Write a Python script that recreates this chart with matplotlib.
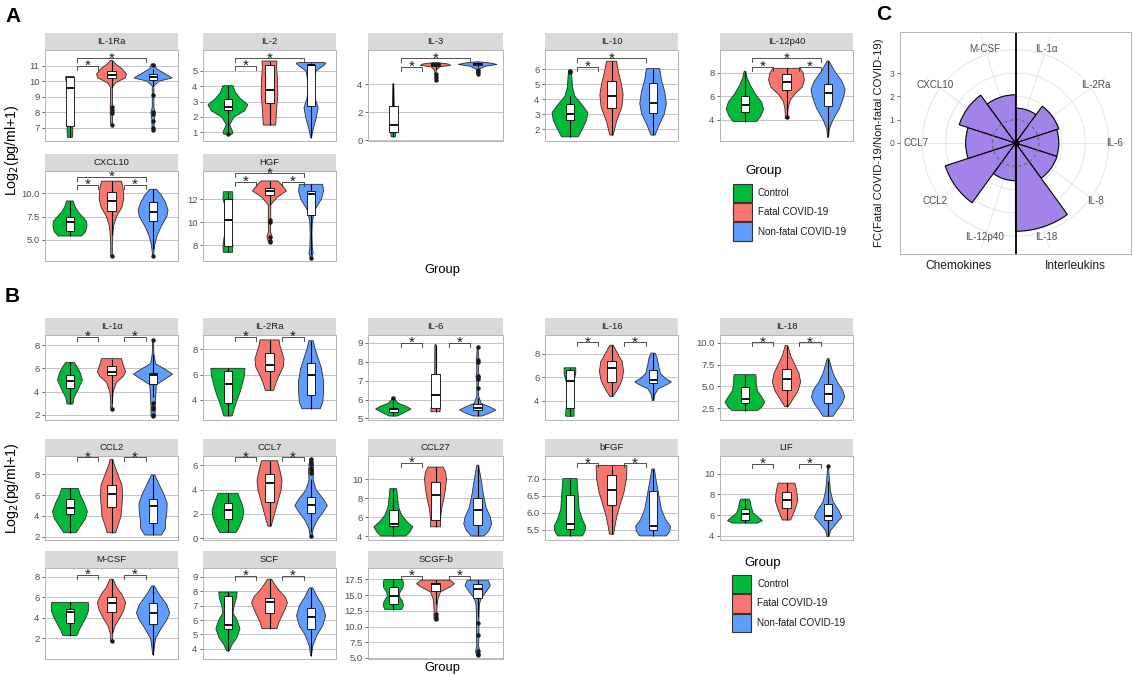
import numpy as np
import matplotlib
matplotlib.use('Agg')
import matplotlib.pyplot as plt
from matplotlib.patches import Rectangle

plt.rcParams['font.family'] = ['Liberation Sans', 'DejaVu Sans']

# ---- data ----
groups = ['Control', 'Fatal COVID-19', 'Non-fatal COVID-19']
group_colors = ['#00BA38', '#F8766D', '#619CFF']

panel_a = [['IL-1Ra', 'IL-2', 'IL-3', 'IL-10', 'IL-12p40'],
           ['CXCL10', 'HGF']]
panel_b = [['IL-1α', 'IL-2Ra', 'IL-6', 'IL-16', 'IL-18'],
           ['CCL2', 'CCL7', 'CCL27', 'bFGF', 'LIF'],
           ['M-CSF', 'SCF', 'SCGF-b']]

ylims = {
    'IL-1Ra': (6.14, 12.0), 'IL-2': (0.43, 6.37), 'IL-3': (-0.05, 6.45),
    'IL-10': (1.2, 7.3), 'IL-12p40': (2.17, 9.97), 'CXCL10': (2.75, 12.39),
    'HGF': (6.65, 14.42), 'IL-1α': (1.57, 8.86), 'IL-2Ra': (2.42, 9.13),
    'IL-6': (4.92, 9.41), 'IL-16': (2.36, 9.59), 'IL-18': (1.14, 10.89),
    'CCL2': (1.68, 9.76), 'CCL7': (-0.14, 6.77), 'CCL27': (3.61, 12.42),
    'bFGF': (5.2, 7.66), 'LIF': (3.58, 11.73), 'M-CSF': (0.0, 8.87),
    'SCF': (3.29, 9.62), 'SCGF-b': (4.84, 19.29),
}

yticks = {
    'IL-1Ra': [7, 8, 9, 10, 11], 'IL-2': [1, 2, 3, 4, 5], 'IL-3': [0, 2, 4],
    'IL-10': [2, 3, 4, 5, 6], 'IL-12p40': [4, 6, 8], 'CXCL10': [5.0, 7.5, 10.0],
    'HGF': [8, 10, 12], 'IL-1α': [2, 4, 6, 8], 'IL-2Ra': [4, 6, 8],
    'IL-6': [5, 6, 7, 8, 9], 'IL-16': [4, 6, 8], 'IL-18': [2.5, 5.0, 7.5, 10.0],
    'CCL2': [2, 4, 6, 8], 'CCL7': [0, 2, 4, 6], 'CCL27': [4, 6, 8, 10],
    'bFGF': [5.5, 6.0, 6.5, 7.0], 'LIF': [4, 6, 8, 10], 'M-CSF': [2, 4, 6, 8],
    'SCF': [4, 5, 6, 7, 8, 9], 'SCGF-b': [5.0, 7.5, 10.0, 12.5, 15.0, 17.5],
}

# (q1, median, q3) per group
boxes = {
    'IL-1Ra': [(7.13, 9.54, 10.29), (10.2, 10.4, 10.66), (10.08, 10.29, 10.46)],
    'IL-2': [(2.45, 2.67, 3.15), (2.93, 3.73, 5.37), (2.7, 5.37, 5.42)],
    'IL-3': [(0.62, 1.1, 2.45), (5.3, 5.4, 5.5), (5.35, 5.42, 5.5)],
    'IL-10': [(2.64, 3.0, 3.66), (3.43, 4.25, 5.2), (3.05, 3.77, 5.06)],
    'IL-12p40': [(4.63, 5.26, 6.03), (6.54, 7.2, 7.91), (5.2, 6.29, 7.06)],
    'CXCL10': [(6.0, 6.89, 7.5), (8.1, 9.23, 10.1), (7.07, 7.96, 9.1)],
    'HGF': [(7.97, 10.2, 12.0), (12.32, 12.69, 12.97), (10.62, 12.4, 12.72)],
    'IL-1α': [(4.29, 4.94, 5.43), (5.43, 5.71, 6.2), (4.7, 5.45, 5.6)],
    'IL-2Ra': [(3.79, 5.3, 6.28), (6.32, 6.76, 7.74), (4.39, 5.95, 6.95)],
    'IL-6': [(5.36, 5.48, 5.58), (5.53, 6.24, 7.34), (5.46, 5.58, 5.74)],
    'IL-16': [(3.42, 5.68, 6.6), (5.62, 6.81, 7.42), (5.5, 5.73, 6.6)],
    'IL-18': [(3.1, 3.54, 4.96), (4.54, 5.89, 7.02), (3.1, 4.07, 5.25)],
    'CCL2': [(4.2, 4.73, 5.6), (4.86, 6.1, 6.98), (3.3, 4.99, 5.63)],
    'CCL7': [(1.56, 2.3, 2.88), (3.0, 4.52, 5.26), (2.11, 2.74, 3.37)],
    'CCL27': [(5.1, 5.26, 6.77), (5.71, 8.3, 9.68), (5.16, 6.71, 8.0)],
    'bFGF': [(5.52, 5.68, 6.52), (6.22, 6.66, 7.09), (5.49, 5.61, 6.63)],
    'LIF': [(5.52, 6.12, 6.57), (6.7, 7.44, 8.2), (5.52, 5.88, 7.07)],
    'M-CSF': [(3.48, 4.61, 4.84), (4.55, 5.42, 6.0), (3.39, 4.48, 5.48)],
    'SCF': [(5.4, 5.65, 7.69), (6.48, 7.28, 7.56), (5.39, 6.23, 6.84)],
    'SCGF-b': [(13.55, 14.85, 16.3), (15.6, 16.8, 16.95), (14.46, 16.0, 16.8)],
}

# (low, high) whisker ends per group
whiskers = {
    'IL-1Ra': [(6.38, 10.3), (9.55, 11.32), (9.7, 10.8)],
    'IL-2': [(0.95, 4.04), (1.47, 5.65), (0.65, 5.55)],
    'IL-3': [(0.25, 4.05), (5.1, 5.55), (5.2, 5.6)],
    'IL-10': [(1.48, 4.2), (1.6, 6.55), (1.6, 6.05)],
    'IL-12p40': [(3.83, 8.14), (4.4, 8.4), (2.5, 9.03)],
    'CXCL10': [(5.43, 9.18), (5.5, 11.3), (4.0, 10.43)],
    'HGF': [(7.4, 12.63), (11.5, 13.56), (7.2, 13.27)],
    'IL-1α': [(2.94, 6.51), (3.0, 6.83), (3.5, 7.2)],
    'IL-2Ra': [(2.74, 6.5), (4.76, 8.74), (3.31, 8.68)],
    'IL-6': [(5.13, 5.9), (5.36, 8.9), (5.13, 6.1)],
    'IL-16': [(2.68, 6.8), (4.36, 8.72), (4.03, 8.05)],
    'IL-18': [(2.21, 6.34), (2.68, 9.68), (1.57, 8.18)],
    'CCL2': [(2.38, 6.64), (2.38, 9.44), (2.16, 7.94)],
    'CCL7': [(0.49, 3.7), (1.0, 6.38), (0.5, 4.9)],
    'CCL27': [(4.03, 9.0), (5.0, 11.26), (4.03, 11.45)],
    'bFGF': [(5.32, 7.0), (5.37, 7.38), (5.32, 7.28)],
    'LIF': [(5.22, 7.55), (5.52, 9.1), (4.0, 9.3)],
    'M-CSF': [(2.29, 5.52), (2.5, 7.77), (0.42, 7.13)],
    'SCF': [(3.86, 7.95), (5.41, 8.84), (3.52, 8.24)],
    'SCGF-b': [(12.7, 17.45), (13.5, 17.35), (11.5, 17.35)],
}

outliers = {
    'IL-1Ra': [[], [8.35, 8.14, 7.95, 7.17], [11.05, 9.1, 8.0, 7.85, 7.4, 7.0, 6.85]],
    'IL-2': [[0.9], [], []],
    'IL-3': [[], [4.75, 4.55, 4.3], [5.0, 4.85, 4.75]],
    'IL-10': [[5.8, 5.9], [], []],
    'IL-12p40': [[], [4.2], []],
    'CXCL10': [[], [3.3], [3.3]],
    'HGF': [[], [10.15, 10.0, 8.7, 8.4, 8.3], [6.95]],
    'IL-1α': [[], [2.55], [8.4, 3.0, 2.7, 2.5, 2.0, 1.9]],
    'IL-2Ra': [[], [], []],
    'IL-6': [[6.1], [], [6.6, 7.1, 7.2, 7.25, 8.0, 8.1, 8.8]],
    'IL-16': [[], [], []],
    'IL-18': [[], [], []],
    'CCL2': [[], [], []],
    'CCL7': [[], [], [5.4, 5.6, 5.8, 6.1, 6.3, 6.5, 0.15]],
    'CCL27': [[], [], []],
    'bFGF': [[], [], []],
    'LIF': [[], [], [10.75]],
    'M-CSF': [[], [1.8], []],
    'SCF': [[], [], []],
    'SCGF-b': [[], [12.0, 11.5, 11.2], [10.5, 8.6, 6.1, 5.6, 5.4]],
}

# violin outlines: (y, half width) pairs, bottom to top
violins = {
    'IL-1Ra': [
        [(6.38, .06), (6.9, .07), (7.2, .05), (8.5, .04), (9.8, .06), (10.1, .1), (10.3, .1)],
        [(7.2, .02), (8.0, .03), (8.3, .03), (9.6, .02), (9.9, .1), (10.2, .33), (10.45, .36), (10.8, .25), (11.1, .1), (11.32, .03)],
        [(6.8, .02), (7.5, .03), (8.0, .05), (8.3, .02), (9.7, .02), (10.0, .15), (10.2, .46), (10.45, .3), (10.8, .08), (11.1, .04)]],
    'IL-2': [
        [(0.87, .1), (1.0, .12), (1.5, .04), (2.0, .15), (2.4, .4), (2.8, .48), (3.2, .3), (3.6, .18), (4.04, .12)],
        [(1.47, .15), (2.5, .17), (3.5, .2), (4.5, .19), (5.3, .17), (5.65, .18)],
        [(0.65, .01), (1.2, .05), (2.0, .13), (2.6, .17), (3.2, .1), (4.0, .06), (5.0, .12), (5.35, .3), (5.5, .36), (5.55, .3)]],
    'IL-3': [
        [(0.25, .05), (0.5, .06), (0.8, .05), (1.5, .03), (2.5, .02), (4.05, .01)],
        [(4.3, .01), (5.0, .02), (5.25, .1), (5.35, .36), (5.45, .3), (5.55, .05)],
        [(4.75, .02), (5.1, .04), (5.3, .2), (5.42, .46), (5.52, .3), (5.6, .05)]],
    'IL-10': [
        [(1.48, .2), (2.0, .3), (2.6, .4), (3.1, .43), (3.6, .3), (4.2, .12), (4.8, .06), (5.3, .05), (5.7, .04), (5.95, .03)],
        [(1.6, .04), (2.5, .12), (3.5, .25), (4.3, .28), (5.0, .24), (5.8, .17), (6.55, .12)],
        [(1.6, .05), (2.3, .15), (3.0, .27), (3.7, .32), (4.5, .28), (5.3, .2), (6.05, .16)]],
    'IL-12p40': [
        [(3.83, .28), (4.3, .38), (4.9, .45), (5.5, .4), (6.2, .25), (7.0, .12), (7.6, .05), (8.14, .02)],
        [(4.1, .03), (4.5, .03), (5.0, .04), (5.6, .08), (6.2, .2), (6.8, .38), (7.4, .43), (8.0, .4), (8.4, .33)],
        [(2.5, .01), (3.2, .03), (4.0, .12), (5.0, .28), (6.0, .38), (6.6, .41), (7.3, .33), (8.2, .15), (9.03, .02)]],
    'CXCL10': [
        [(5.43, .28), (5.9, .38), (6.5, .41), (7.0, .4), (7.5, .3), (8.0, .2), (8.6, .12), (9.18, .08)],
        [(3.3, .02), (4.5, .02), (5.5, .03), (6.5, .05), (7.5, .12), (8.5, .25), (9.5, .3), (10.5, .28), (11.3, .24)],
        [(3.3, .01), (4.5, .04), (5.5, .1), (6.5, .2), (7.5, .33), (8.2, .36), (9.0, .3), (9.8, .2), (10.43, .08)]],
    'HGF': [
        [(7.4, .11), (8.0, .12), (9.0, .08), (10.2, .06), (11.5, .08), (12.0, .12), (12.63, .11)],
        [(8.3, .02), (8.5, .05), (8.8, .06), (9.2, .02), (10.0, .03), (10.3, .03), (11.5, .03), (12.2, .2), (12.7, .41), (13.2, .3), (13.56, .2)],
        [(6.94, .02), (7.3, .05), (7.8, .03), (9.0, .02), (10.0, .03), (11.0, .08), (12.0, .25), (12.7, .3), (13.27, .28)]],
    'IL-1α': [
        [(2.94, .07), (3.5, .1), (4.2, .2), (5.0, .3), (5.6, .25), (6.1, .18), (6.51, .1)],
        [(2.57, .02), (3.2, .02), (4.0, .04), (4.8, .12), (5.3, .28), (5.7, .34), (6.3, .28), (6.83, .24)],
        [(1.9, .05), (2.3, .05), (2.8, .05), (3.4, .06), (4.0, .07), (4.6, .08), (5.1, .3), (5.5, .47), (5.9, .3), (6.4, .06), (7.2, .02), (8.46, .01)]],
    'IL-2Ra': [
        [(2.74, .1), (3.2, .14), (3.8, .2), (4.5, .28), (5.3, .35), (6.0, .4), (6.5, .41)],
        [(4.76, .1), (5.3, .15), (6.0, .24), (6.6, .33), (7.2, .35), (7.8, .3), (8.3, .25), (8.74, .23)],
        [(3.31, .22), (3.8, .28), (4.6, .3), (5.5, .3), (6.5, .25), (7.3, .17), (8.0, .1), (8.68, .05)]],
    'IL-6': [
        [(5.13, .1), (5.3, .25), (5.5, .42), (5.65, .3), (5.8, .12), (6.0, .04), (6.12, .03)],
        [(5.36, .11), (5.5, .11), (5.8, .06), (6.5, .03), (7.5, .02), (8.9, .015)],
        [(5.13, .1), (5.3, .3), (5.45, .43), (5.6, .3), (5.8, .08), (6.2, .02), (7.0, .02), (7.2, .04), (7.5, .02), (8.0, .03), (8.82, .01)]],
    'IL-16': [
        [(2.68, .1), (3.2, .1), (3.6, .07), (4.5, .04), (5.5, .08), (6.3, .14), (6.8, .14)],
        [(4.36, .04), (5.0, .15), (5.7, .25), (6.5, .29), (7.3, .26), (8.0, .15), (8.72, .04)],
        [(4.03, .02), (4.5, .04), (5.0, .12), (5.4, .35), (5.6, .44), (5.9, .3), (6.3, .18), (7.0, .13), (7.6, .1), (8.05, .05)]],
    'IL-18': [
        [(2.21, .3), (2.6, .4), (3.2, .48), (3.8, .4), (4.5, .3), (5.4, .27), (6.0, .27), (6.34, .26)],
        [(2.68, .04), (3.5, .15), (4.5, .28), (5.5, .34), (6.5, .3), (7.5, .2), (8.5, .1), (9.68, .03)],
        [(1.57, .12), (2.3, .22), (3.0, .33), (3.8, .4), (4.6, .35), (5.5, .22), (6.5, .12), (7.5, .06), (8.18, .02)]],
    'CCL2': [
        [(2.38, .15), (3.0, .25), (3.7, .37), (4.4, .42), (5.2, .35), (6.0, .25), (6.64, .2)],
        [(2.38, .1), (3.0, .15), (4.0, .23), (5.0, .25), (6.0, .27), (7.0, .25), (8.0, .15), (9.0, .06), (9.44, .03)],
        [(2.16, .2), (2.8, .3), (3.5, .3), (4.3, .33), (5.2, .34), (6.0, .27), (7.0, .15), (7.94, .04)]],
    'CCL7': [
        [(0.49, .2), (1.0, .28), (1.7, .36), (2.3, .38), (2.9, .33), (3.4, .27), (3.7, .24)],
        [(1.0, .04), (2.0, .12), (3.0, .2), (4.0, .28), (4.8, .3), (5.6, .25), (6.38, .19)],
        [(0.15, .02), (0.8, .05), (1.5, .15), (2.2, .3), (2.7, .39), (3.2, .3), (4.0, .12), (4.8, .05), (5.5, .06), (6.0, .05), (6.5, .03)]],
    'CCL27': [
        [(4.03, .3), (4.5, .4), (5.0, .46), (5.5, .33), (6.2, .2), (7.0, .13), (8.0, .1), (9.0, .08)],
        [(5.0, .12), (6.0, .12), (7.0, .15), (8.0, .2), (9.0, .24), (10.0, .26), (10.7, .24), (11.26, .18)],
        [(4.03, .15), (4.6, .27), (5.3, .33), (6.0, .3), (7.0, .2), (8.5, .13), (10.0, .08), (11.45, .02)]],
    'bFGF': [
        [(5.32, .3), (5.45, .36), (5.6, .38), (5.8, .3), (6.1, .22), (6.5, .2), (6.8, .18), (7.0, .17)],
        [(5.37, .05), (5.6, .08), (5.9, .13), (6.2, .2), (6.6, .3), (7.0, .36), (7.38, .37)],
        [(5.32, .32), (5.45, .4), (5.6, .42), (5.8, .3), (6.1, .2), (6.5, .14), (6.9, .08), (7.28, .03)]],
    'LIF': [
        [(5.22, .3), (5.45, .42), (5.7, .35), (6.2, .2), (6.8, .15), (7.3, .13), (7.55, .1)],
        [(5.52, .1), (6.0, .15), (6.7, .22), (7.4, .27), (8.2, .25), (8.8, .22), (9.1, .2)],
        [(3.9, .02), (4.5, .06), (5.2, .2), (5.8, .33), (6.5, .25), (7.3, .12), (8.3, .06), (9.5, .03), (10.75, .01)]],
    'M-CSF': [
        [(2.29, .17), (2.8, .22), (3.4, .3), (4.0, .38), (4.6, .44), (5.2, .45), (5.52, .44)],
        [(1.7, .02), (2.5, .03), (3.2, .08), (4.0, .2), (4.8, .3), (5.5, .34), (6.3, .25), (7.0, .12), (7.77, .04)],
        [(0.42, .01), (1.2, .03), (2.0, .06), (3.0, .2), (3.8, .33), (4.5, .4), (5.3, .33), (6.3, .15), (7.13, .03)]],
    'SCF': [
        [(3.86, .03), (4.3, .1), (4.8, .22), (5.4, .29), (6.0, .22), (6.5, .12), (7.0, .15), (7.6, .21), (7.95, .22)],
        [(5.41, .18), (5.8, .22), (6.3, .3), (6.8, .38), (7.2, .43), (7.6, .38), (8.1, .22), (8.5, .12), (8.84, .05)],
        [(3.52, .01), (4.2, .04), (5.0, .15), (5.6, .28), (6.3, .35), (7.0, .28), (7.6, .15), (8.24, .04)]],
    'SCGF-b': [
        [(12.7, .2), (13.3, .24), (14.0, .22), (14.8, .14), (15.5, .16), (16.2, .23), (16.9, .24), (17.45, .22)],
        [(11.0, .03), (11.8, .04), (12.5, .03), (13.5, .04), (14.5, .06), (15.5, .12), (16.3, .35), (16.8, .45), (17.35, .35)],
        [(5.4, .02), (6.0, .05), (7.0, .02), (8.6, .03), (10.5, .03), (12.0, .03), (13.5, .04), (14.5, .08), (15.5, .2), (16.5, .3), (17.35, .25)]],
}

# significance brackets: (pair, y)
brackets = {
    'IL-1Ra': [((1, 2), 11.0), ((1, 3), 11.47)],
    'IL-2': [((1, 2), 5.35), ((1, 3), 5.83)],
    'IL-3': [((1, 2), 5.26), ((1, 3), 5.86)],
    'IL-10': [((1, 2), 6.18), ((1, 3), 6.74)],
    'IL-12p40': [((1, 2), 8.54), ((2, 3), 8.54), ((1, 3), 9.26)],
    'CXCL10': [((1, 2), 10.89), ((2, 3), 10.89), ((1, 3), 11.79)],
    'HGF': [((1, 2), 13.5), ((2, 3), 13.5), ((1, 3), 14.22)],
    'IL-1α': [((1, 2), 8.71), ((2, 3), 8.71)],
    'IL-2Ra': [((1, 2), 9.0), ((2, 3), 9.0)],
    'IL-6': [((1, 2), 9.0), ((2, 3), 9.0)],
    'IL-16': [((1, 2), 8.98), ((2, 3), 8.98)],
    'IL-18': [((1, 2), 10.07), ((2, 3), 10.07)],
    'CCL2': [((1, 2), 9.63), ((2, 3), 9.63)],
    'CCL7': [((1, 2), 6.66), ((2, 3), 6.66)],
    'CCL27': [((1, 2), 11.68)],
    'bFGF': [((1, 2), 7.45), ((2, 3), 7.45)],
    'LIF': [((1, 2), 10.99), ((2, 3), 10.99)],
    'M-CSF': [((1, 2), 8.23), ((2, 3), 8.23)],
    'SCF': [((1, 2), 9.07), ((2, 3), 9.07)],
    'SCGF-b': [((1, 2), 18.03), ((2, 3), 18.03)],
}

# panel C: fold change fatal / non-fatal
fc_labels = ['IL-1α', 'IL-2Ra', 'IL-6', 'IL-8', 'IL-18',
             'IL-12p40', 'CCL2', 'CCL7', 'CXCL10', 'M-CSF']
fc_values = [1.5, 1.95, 1.86, 1.87, 3.79, 1.62, 3.17, 2.14, 2.54, 2.07]
fc_ticks = [0, 1, 2, 3]
fc_sides = ['Chemokines', 'Interleukins']

# ---- layout ----
W, H = 1133, 676
fig = plt.figure(figsize=(W / 100, H / 100), dpi=100)

def px_axes(l, t, r, b, **kw):
    return fig.add_axes([l / W, 1 - b / H, (r - l) / W, (b - t) / H], **kw)

cols = [(45, 178), (203, 336), (368, 503), (545, 678), (720, 853)]
rows_a = [(33, 50, 141), (154, 171, 261)]
rows_b = [(318, 335, 420), (439, 456, 540), (551, 568, 659)]

BRX = {(1, 2): (1.18, 1.67), (2, 3): (2.31, 2.82), (1, 3): (1.18, 2.82)}
EDGE = '#2b2b2b'


def draw_panel(name, col, row):
    l, r = col
    st, pt, pb = row
    s = px_axes(l, st, r, pt)
    s.set_facecolor('#d9d9d9')
    s.set_xticks([]); s.set_yticks([])
    for sp in s.spines.values():
        sp.set_visible(False)
    s.text(0.5, 0.5, name, ha='center', va='center', fontsize=6.8,
           color='#1a1a1a', transform=s.transAxes)

    ax = px_axes(l, pt, r, pb)
    lo, hi = ylims[name]
    rng = hi - lo
    ax.set_xlim(0.4, 3.6)
    ax.set_ylim(lo, hi)
    ticks = yticks[name]
    ax.set_yticks(ticks)
    fmt = '%.1f' if any(t != int(t) for t in ticks) else '%d'
    ax.set_yticklabels([fmt % t for t in ticks])
    ax.set_xticks([])
    ax.yaxis.grid(True, color='#c4c4c4', lw=0.7)
    ax.set_axisbelow(True)
    ax.tick_params(axis='y', length=2.5, width=0.5, color='#333333',
                   labelsize=6.8, labelcolor='#4d4d4d', pad=1.5)
    for sp in ax.spines.values():
        sp.set_color('#b3b3b3'); sp.set_linewidth(0.7)

    for i in range(3):
        c = i + 1
        prof = violins[name][i]
        ys = [p[0] for p in prof]
        ws = [p[1] for p in prof]
        xs = [c + w for w in ws] + [c - w for w in ws[::-1]]
        ax.fill(xs, ys + ys[::-1], facecolor=group_colors[i],
                edgecolor=EDGE, lw=0.6, zorder=2)
        q1, med, q3 = boxes[name][i]
        wl, wh = whiskers[name][i]
        ax.vlines(c, wl, q1, color='black', lw=0.8, zorder=3)
        ax.vlines(c, q3, wh, color='black', lw=0.8, zorder=3)
        ax.add_patch(Rectangle((c - 0.1, q1), 0.2, q3 - q1, facecolor='white',
                               edgecolor='black', lw=0.6, zorder=4))
        ax.hlines(med, c - 0.1, c + 0.1, color='black', lw=1.3, zorder=5)
        out = outliers[name][i]
        if out:
            ax.scatter([c] * len(out), out, s=10, color='#1a1a1a',
                       zorder=5, linewidths=0)

    tl = 4.0 / (pb - pt) * rng
    for pair, y in brackets[name]:
        x0, x1 = BRX[pair]
        ax.plot([x0, x0, x1, x1], [y - tl, y, y, y - tl], color='#333333',
                lw=0.6, zorder=6, clip_on=False)
        ax.annotate('*', xy=((x0 + x1) / 2, y), xytext=(0, -3.0),
                    textcoords='offset points', ha='center', va='baseline',
                    fontsize=11, color='#1a1a1a', annotation_clip=False)
    return ax


for ri, names in enumerate(panel_a):
    for ci, nm in enumerate(names):
        draw_panel(nm, cols[ci], rows_a[ri])
for ri, names in enumerate(panel_b):
    for ci, nm in enumerate(names):
        draw_panel(nm, cols[ci], rows_b[ri])

# ---- panel C ----
cl, ct, cr, cb = 900, 32, 1131, 254
unit = 23.3
pol = px_axes(cl, ct, cr, cb, projection='polar')
pol.set_theta_zero_location('N')
pol.set_theta_direction(-1)
theta = np.deg2rad(np.arange(len(fc_labels)) * 36 + 18)
pol.bar(theta, fc_values, width=np.deg2rad(36), color='#a283ea',
        edgecolor='black', lw=0.8, zorder=3)
rmax = (cb - ct) / 2 / unit
pol.set_ylim(0, rmax)
pol.set_yticks([1, 2, 3, 4])
pol.set_yticklabels([])
pol.set_xticks(theta)
pol.set_xticklabels([])
pol.grid(color='#e6e6e6', lw=0.7)
pol.set_axisbelow(True)
pol.spines['polar'].set_visible(False)
pol.patch.set_alpha(0)
tt = np.linspace(0, 2 * np.pi, 200)
pol.plot(tt, np.ones_like(tt), ls=(0, (3, 2.5)), color='#666666', lw=0.8, zorder=4)
for t, lab in zip(theta, fc_labels):
    pol.text(t, 4.25, lab, ha='center', va='center', fontsize=7.1, color='#4d4d4d')

cov = px_axes(cl, ct, cr, cb)
cov.set_facecolor('none')
hw = (cr - cl) / 2 / unit
cov.set_xlim(-hw, hw)
cov.set_ylim(-rmax, rmax)
cov.axvline(0, color='black', lw=1.3)
cov.scatter([0], [0], s=14, color='black', zorder=5)
cov.set_yticks(fc_ticks)
cov.set_yticklabels([str(t) for t in fc_ticks])
cov.set_xticks([-2.45, 2.55])
cov.set_xticklabels(fc_sides)
cov.tick_params(axis='y', length=2.5, width=0.5, color='#333333',
                labelsize=6.2, labelcolor='#4d4d4d', pad=1.5)
cov.tick_params(axis='x', length=0, labelsize=8.6, labelcolor='#1a1a1a', pad=4)
cov.set_ylabel('FC(Fatal COVID-19/Non-fatal COVID-19)', fontsize=8.2,
               color='#1a1a1a', labelpad=4)
for sp in cov.spines.values():
    sp.set_color('#b3b3b3'); sp.set_linewidth(0.7)

# ---- labels, legends ----
ov = fig.add_axes([0, 0, 1, 1])
ov.set_xlim(0, W)
ov.set_ylim(H, 0)
ov.axis('off')
ov.patch.set_alpha(0)

for letter, (x, y) in zip('ABC', [(5, 17), (5, 297), (876, 15)]):
    ov.text(x, y, letter, fontsize=15, fontweight='bold', ha='left', va='center')

ylab = 'Log$_2$(pg/ml+1)'
ov.text(12, 150, ylab, rotation=90, ha='center', va='center', fontsize=10.2)
ov.text(12, 488, ylab, rotation=90, ha='center', va='center', fontsize=10.2)
ov.text(442, 270, 'Group', ha='center', va='center', fontsize=9.3)
ov.text(442, 668, 'Group', ha='center', va='center', fontsize=9.3)


def draw_legend(x, y_title, y_key, step):
    ov.text(x + 12, y_title, 'Group', ha='left', va='center', fontsize=9.5)
    for i, (g, col) in enumerate(zip(groups, group_colors)):
        yk = y_key + i * step
        ov.add_patch(Rectangle((x, yk), 19, 18.5, facecolor=col,
                               edgecolor='#333333', lw=0.8))
        ov.text(x + 25, yk + 9.5, g, ha='left', va='center', fontsize=7.1,
                color='#1a1a1a')


draw_legend(733, 171, 183.5, 19.3)
draw_legend(732, 563, 574.5, 19.5)

fig.savefig('out.png', dpi=100)
